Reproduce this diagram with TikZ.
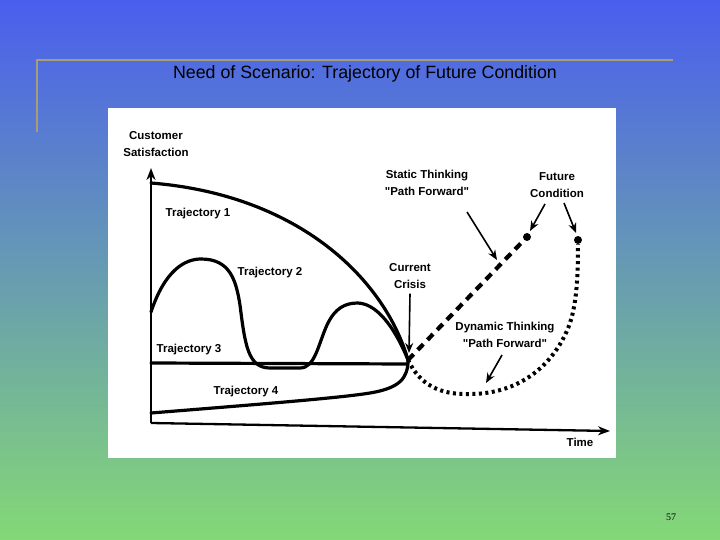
\documentclass[tikz,border=0pt]{standalone}
\usepackage{fontspec}
\setmainfont{Liberation Sans}
\newfontfamily\numfont{Liberation Serif}
\usetikzlibrary{arrows.meta}
\definecolor{bgtop}{RGB}{74,94,238}
\definecolor{bgmid}{RGB}{98,165,190}
\definecolor{bgbot}{RGB}{132,216,118}
\definecolor{goldline}{RGB}{168,158,118}
\tikzset{
  lbl/.style={font=\fontsize{11.5}{16.5}\selectfont\bfseries, align=center, inner sep=0pt},
  curve/.style={line width=3.2pt, line cap=round},
  axis/.style={line width=2.3pt, -{Stealth[length=12pt,width=9pt]}},
  pointer/.style={line width=1.6pt, -{Stealth[length=10pt,width=8pt]}},
  dot/.style={circle, fill=black, inner sep=0pt, minimum size=8pt}
}
\begin{document}
\begin{tikzpicture}[x=1pt,y=-1pt]
\useasboundingbox (0,0) rectangle (720,540);
\shade[top color=bgtop, middle color=bgmid, bottom color=bgbot] (0,0) rectangle (720,540);
\draw[goldline, line width=2pt] (37,60) -- (673,60);
\draw[goldline, line width=2pt] (37,59) -- (37,132);
\node[font=\fontsize{17.8}{20}\selectfont, inner sep=0pt] (title) at (365,74) {Need of Scenario: Trajectory of Future Condition};
\fill[white] (108,108) rectangle (616,458);
% axes
\coordinate (origin) at (151,423);
\coordinate (ytop) at (151,168);
\coordinate (xend) at (610,431);
\draw[axis] (origin) -- (ytop);
\draw[axis] (origin) -- (xend);
\node[lbl] (ylab) at (156,144) {Customer\\Satisfaction};
\node[lbl] (xlab) at (580,442) {Time};
\coordinate (crisis) at (408,360);
% trajectories
\draw[curve] (151,183) .. controls (300,195) and (385,280) .. (crisis);
\draw[curve] (151,312) .. controls (165,270) and (185,259) .. (201,259)
  .. controls (230,259) and (236,280) .. (240,305)
  .. controls (245,345) and (248,368) .. (270,368) -- (300,368)
  .. controls (315,368) and (318,345) .. (327,325)
  .. controls (335,308) and (345,303) .. (358,303)
  .. controls (380,304) and (398,335) .. (crisis);
\draw[curve] (151,363) -- (408,364);
\draw[curve] (151,413) .. controls (250,405) and (340,398) .. (370,393) .. controls (400,388) and (408,378) .. (crisis);
\node[lbl] (t1) at (198,214) {Trajectory 1};
\node[lbl] (t2) at (270,273) {Trajectory 2};
\node[lbl] (t3) at (189,350) {Trajectory 3};
\node[lbl] (t4) at (246,392) {Trajectory 4};
% future paths
\node[dot] (fc1) at (527,237) {};
\node[dot] (fc2) at (578,240) {};
\draw[line width=4.2pt, dash pattern=on 8pt off 6pt] (crisis) -- (fc1);
\draw[line width=4pt, dash pattern=on 3pt off 3.5pt] (crisis) .. controls (420,385) and (440,395) .. (470,394)
  .. controls (515,394) and (548,370) .. (565,335) .. controls (575,315) and (578,290) .. (fc2);
% labels and pointers
\node[lbl] (cc) at (410,276) {Current\\Crisis};
\draw[pointer] (cc.south) ++(0,5) -- (409,353);
\node[lbl] (st) at (427,183) {Static Thinking\\\textquotedbl Path Forward\textquotedbl};
\draw[pointer] (467,212) -- (497,260);
\node[lbl] (fc) at (557,185) {Future\\Condition};
\draw[pointer] (545,204) -- (530,231);
\draw[pointer] (564,203) -- (576,233);
\node[lbl] (dt) at (505,335) {Dynamic Thinking\\\textquotedbl Path Forward\textquotedbl};
\draw[pointer] (502,355) -- (486,383);
\node[font=\numfont\fontsize{10}{12}\selectfont, inner sep=0pt] (pg) at (671,517) {57};
\end{tikzpicture}
\end{document}
